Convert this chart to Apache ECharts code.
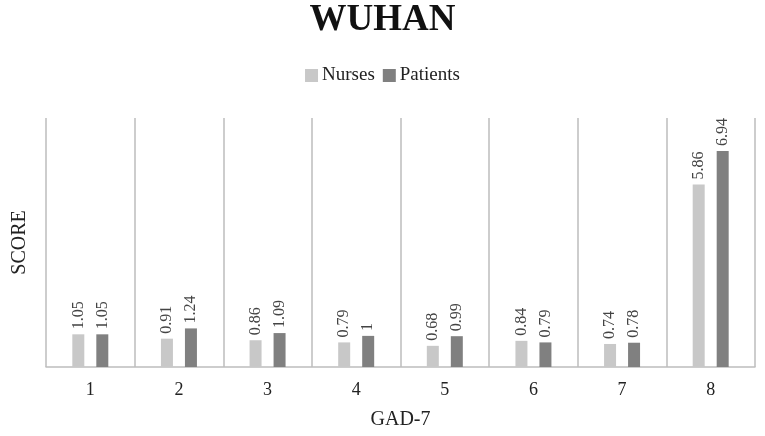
<!DOCTYPE html>
<html>
<head>
<meta charset="utf-8">
<script src="https://cdn.jsdelivr.net/npm/echarts@6/dist/echarts.min.js"></script>
<style>
  html, body { margin: 0; padding: 0; background: #fff; }
  #chart { width: 765px; height: 436px; }
</style>
</head>
<body>
<div id="chart"></div>
<script>
  var categories = ['1', '2', '3', '4', '5', '6', '7', '8'];
  var nurses = [1.05, 0.91, 0.86, 0.79, 0.68, 0.84, 0.74, 5.86];
  var patients = [1.05, 1.24, 1.09, 1, 0.99, 0.79, 0.78, 6.94];

  var font = '"Liberation Serif", "DejaVu Serif", serif';

  // value labels written vertically above each bar
  var barLabel = {
    show: true,
    position: 'top',
    rotate: 90,
    align: 'left',
    verticalAlign: 'middle',
    distance: 5,
    color: '#444',
    fontFamily: font,
    fontSize: 16
  };

  var myChart = echarts.init(document.getElementById('chart'));
  myChart.setOption({
    backgroundColor: '#fff',
    animation: false,
    color: ['#c8c8c8', '#808080'],
    title: {
      text: 'WUHAN',
      left: 'center',
      top: -3,
      textStyle: { fontFamily: font, fontWeight: 'bold', fontSize: 37, color: '#111' }
    },
    legend: {
      top: 61,
      left: 'center',
      itemWidth: 13,
      itemHeight: 13,
      itemGap: 8,
      icon: 'rect',
      textStyle: { fontFamily: font, fontSize: 19, color: '#222', padding: [0, 0, 0, -1] },
      data: ['Nurses', 'Patients']
    },
    grid: { left: 46, right: 10, top: 118, bottom: 69 },
    xAxis: {
      type: 'category',
      data: categories,
      name: 'GAD-7',
      nameLocation: 'middle',
      nameGap: 43,
      nameTextStyle: { fontFamily: font, fontSize: 20, color: '#222' },
      axisLine: { lineStyle: { color: '#bdbdbd', width: 1.5 } },
      axisTick: { show: false },
      axisLabel: { fontFamily: font, fontSize: 18, color: '#222', margin: 14 },
      splitLine: { show: true, interval: 0, lineStyle: { color: '#bdbdbd', width: 1.5 } }
    },
    yAxis: {
      type: 'value',
      min: 0,
      max: 8,
      interval: 1,
      name: 'SCORE',
      nameLocation: 'middle',
      nameGap: 16,
      nameTextStyle: { fontFamily: font, fontSize: 20, color: '#222' },
      axisLine: { show: false },
      axisTick: { show: false },
      axisLabel: { show: false },
      splitLine: { show: false }
    },
    series: [
      {
        name: 'Nurses',
        type: 'bar',
        barWidth: 12,
        barGap: '100%',
        label: barLabel,
        data: nurses
      },
      {
        name: 'Patients',
        type: 'bar',
        barWidth: 12,
        barGap: '100%',
        label: barLabel,
        data: patients
      }
    ]
  });
</script>
</body>
</html>
